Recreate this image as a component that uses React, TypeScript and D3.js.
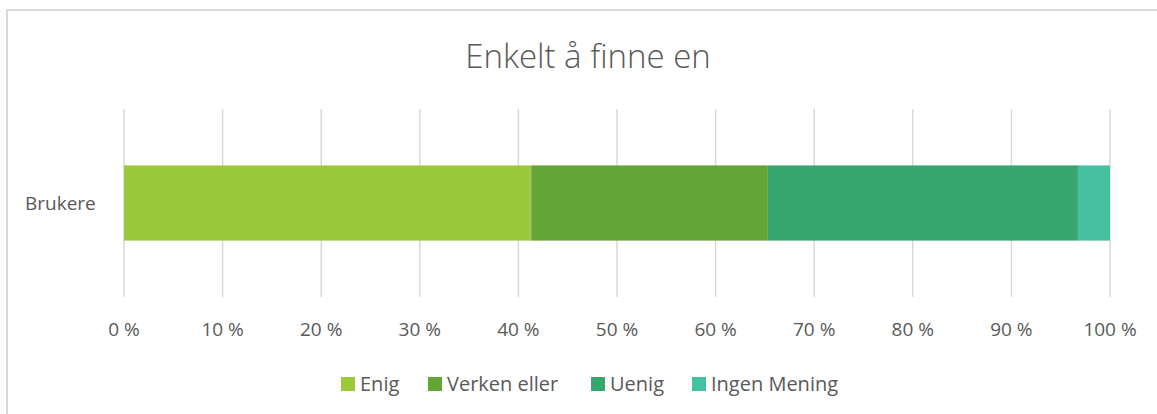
import React from "react";
import * as d3 from "d3";

const categories = ["Brukere"];
const seriesNames = ["Enig", "Verken eller", "Uenig", "Ingen Mening"];
const seriesColors = ["#9ACA3C", "#63A537", "#37A76F", "#44C1A3"];
const enig = [0.413];
const verkenEller = [0.24];
const uenig = [0.3145];
const ingenMening = [0.0325];
const tickValues = [0, 0.1, 0.2, 0.3, 0.4, 0.5, 0.6, 0.7, 0.8, 0.9, 1.0];
const title = "Enkelt å finne en";

const W = 1157;
const H = 414;
const FONT = "'Open Sans', 'DejaVu Sans', sans-serif";

export default function App() {
  const x = d3.scaleLinear().domain([0, 1]).range([124, 1110]);
  const y = d3.scaleBand<string>().domain(categories).range([109, 297]).paddingInner(0.6).paddingOuter(0.3);
  const seriesValues = [enig, verkenEller, uenig, ingenMening];
  const data = categories.map((c, i) => {
    const o: any = { cat: c };
    seriesNames.forEach((s, j) => (o[s] = seriesValues[j][i]));
    return o;
  });
  const stack = d3.stack<any>().keys(seriesNames)(data);
  const fmt = (v: number) => `${Math.round(v * 100)} %`;

  const legendX = [341, 428, 591, 692];

  return (
    <svg width={W} height={H} style={{ position: "absolute", left: 0, top: 0, background: "#fff" }} fontFamily={FONT}>
      <rect x={0} y={0} width={W} height={H} fill="#fff" />
      <rect x={7} y={10} width={W + 20} height={H + 20} fill="none" stroke="#d9d9d9" strokeWidth={2} />
      <text x={588} y={68} textAnchor="middle" fontSize={33} fontWeight={300} fill="#595959">{title}</text>
      {tickValues.map((t) => (
        <line key={t} x1={x(t)} x2={x(t)} y1={109} y2={297} stroke="#d9d9d9" strokeWidth={1.5} />
      ))}
      {stack.map((s, j) =>
        s.map((d, i) => (
          <rect key={`${j}-${i}`} x={x(d[0])} width={x(d[1]) - x(d[0])} y={y(categories[i])} height={y.bandwidth()} fill={seriesColors[j]} />
        ))
      )}
      {categories.map((c) => (
        <text key={c} x={25} y={210} fontSize={19} fill="#595959">{c}</text>
      ))}
      {tickValues.map((t) => (
        <text key={t} x={x(t)} y={336} textAnchor="middle" fontSize={19} fill="#595959">{fmt(t)}</text>
      ))}
      {seriesNames.map((s, j) => (
        <g key={s}>
          <rect x={legendX[j]} y={377} width={14} height={14} fill={seriesColors[j]} />
          <text x={legendX[j] + 19} y={391} fontSize={20} fill="#595959">{s}</text>
        </g>
      ))}
    </svg>
  );
}
